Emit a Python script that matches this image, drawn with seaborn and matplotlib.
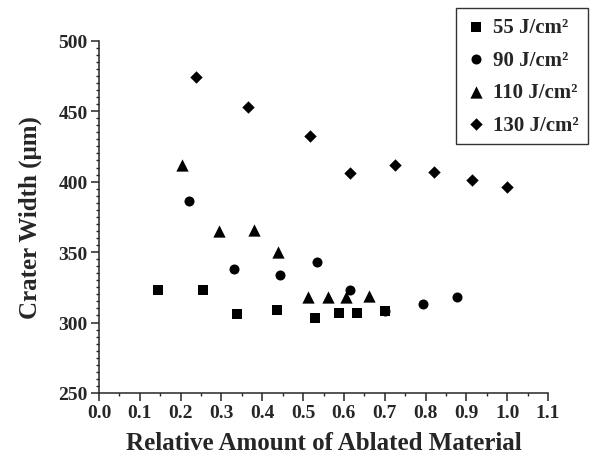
"""
Crater width vs relative amount of ablated material, per fluence.
"""
# %% IMPORT LIBRARIES
import matplotlib
matplotlib.use("Agg")
import matplotlib.pyplot as plt
from matplotlib.ticker import MultipleLocator
import pandas as pd
import seaborn as sns

sns.set_style("ticks")
plt.rcParams['font.family'] = ['Liberation Serif', 'DejaVu Serif']
plt.rcParams['font.weight'] = 'bold'

# %% Data
labels = ["55 J/cm²", "90 J/cm²", "110 J/cm²", "130 J/cm²"]

x_55 = [0.145, 0.256, 0.338, 0.435, 0.530, 0.588, 0.631, 0.700]
y_55 = [323, 323, 306, 309, 303, 307, 307, 308]

x_90 = [0.220, 0.331, 0.443, 0.534, 0.614, 0.700, 0.794, 0.877]
y_90 = [386, 338, 334, 343, 323, 308, 313, 318]

x_110 = [0.203, 0.295, 0.380, 0.439, 0.511, 0.561, 0.606, 0.661]
y_110 = [412, 365, 366, 350, 318, 318, 318, 319]

x_130 = [0.238, 0.366, 0.516, 0.616, 0.726, 0.821, 0.914, 1.000]
y_130 = [474, 453, 432, 406, 412, 407, 401, 396]

series = [(x_55, y_55), (x_90, y_90), (x_110, y_110), (x_130, y_130)]
markers = ["s", "o", "^", "D"]
sizes = [42, 52, 78, 40]

# %% Plot
fig = plt.figure(figsize=(5.95, 4.64), dpi=100)
ax = fig.add_axes([0.1664, 0.1509, 0.7546, 0.7593])

for (xs, ys), lab, m, s in zip(series, labels, markers, sizes):
    df = pd.DataFrame({"x": xs, "y": ys})
    sns.scatterplot(data=df, x="x", y="y", ax=ax, marker=m, s=s,
                    color="black", edgecolor="black", linewidth=0, label=lab)

ax.set_xlim(0, 1.1)
ax.set_ylim(250, 500)
ax.xaxis.set_major_locator(MultipleLocator(0.1))
ax.xaxis.set_minor_locator(MultipleLocator(0.05))
ax.yaxis.set_major_locator(MultipleLocator(50))
ax.yaxis.set_minor_locator(MultipleLocator(5))
ax.xaxis.set_major_formatter(matplotlib.ticker.FormatStrFormatter("%.1f"))
ax.tick_params(which="major", direction="out", length=6, width=1.1,
               labelsize=14, pad=2)
ax.tick_params(which="minor", direction="out", length=2.5, width=1.0)
for lbl in ax.get_xticklabels() + ax.get_yticklabels():
    lbl.set_fontweight("bold")
for sp in ["left", "bottom"]:
    ax.spines[sp].set_linewidth(1.1)
sns.despine(ax=ax)

ax.set_xlabel("Relative Amount of Ablated Material", fontsize=18,
              fontweight="bold", labelpad=7)
ax.set_ylabel("Crater Width (μm)", fontsize=18, fontweight="bold", labelpad=12)

leg = ax.legend(loc="upper right", bbox_to_anchor=(0.988, 0.981),
                bbox_transform=fig.transFigure, frameon=True, fancybox=False,
                edgecolor="black", fontsize=15, handletextpad=0.3,
                labelspacing=0.6, borderpad=0.45, handlelength=1.0,
                borderaxespad=0)
leg.get_frame().set_linewidth(1.0)
for t in leg.get_texts():
    t.set_fontweight("bold")

plt.savefig("out.png", dpi=100)
